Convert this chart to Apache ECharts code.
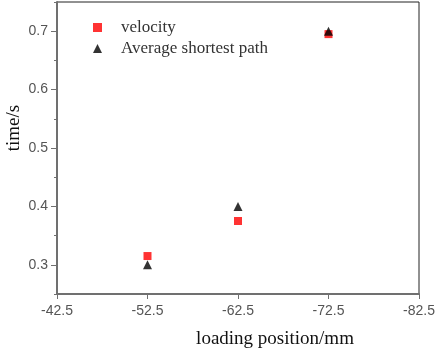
<!DOCTYPE html>
<html>
<head>
<meta charset="utf-8">
<script src="https://cdn.jsdelivr.net/npm/echarts@6/dist/echarts.min.js"></script>
<style>
  html, body { margin: 0; padding: 0; background: #fff; }
  #chart { width: 440px; height: 351px; }
</style>
</head>
<body>
<div id="chart"></div>
<script>
// 数据
var positions = [-52.5, -62.5, -72.5];
var velocity = [0.315, 0.375, 0.695];
var shortestPath = [0.30, 0.40, 0.70];
var xTicks = [-82.5, -72.5, -62.5, -52.5, -42.5];
var yTicks = [0.3, 0.4, 0.5, 0.6, 0.7];
var yMinorTicks = [0.25, 0.35, 0.45, 0.55, 0.65, 0.75];

function pairs(xs, ys) {
  return xs.map(function (x, i) { return [x, ys[i]]; });
}

var myChart = echarts.init(document.getElementById('chart'));

var serif = '"Liberation Serif", "Times New Roman", serif';
var sans = '"Liberation Sans", Arial, sans-serif';

var option = {
  animation: false,
  grid: {
    left: 57, right: 21, top: 2, bottom: 57,
    outerBoundsMode: 'none',
    containLabel: false,
    show: true, borderColor: '#222', borderWidth: 1
  },
  legend: {
    orient: 'vertical',
    left: 88, top: 14,
    itemWidth: 9, itemHeight: 9,
    itemGap: 4,
    textStyle: { fontFamily: serif, fontSize: 17, color: '#333', padding: [0, 0, 0, 14] },
    data: [
      { name: 'velocity', icon: 'rect', itemStyle: { color: '#ff0000' } },
      { name: 'Average shortest path', icon: 'triangle', itemStyle: { color: '#000' } }
    ]
  },
  xAxis: {
    type: 'value',
    min: -82.5, max: -42.5, interval: 10,
    inverse: true,
    name: 'loading position/mm',
    nameLocation: 'middle',
    nameGap: 36,
    nameTextStyle: { fontFamily: serif, fontSize: 19, color: '#111', padding: [0, 0, 0, 74] },
    axisLine: { lineStyle: { color: '#707070', width: 2 } },
    axisTick: { length: 5, customValues: xTicks, lineStyle: { color: '#707070' } },
    axisLabel: {
      fontFamily: sans, fontSize: 14, color: '#555', margin: 10,
      customValues: xTicks,
      formatter: function (v) { return v.toFixed(1); }
    },
    splitLine: { show: false }
  },
  yAxis: [{
    type: 'value',
    min: 0.25, max: 0.75,
    name: 'time/s',
    nameLocation: 'middle',
    nameMoveOverlap: false,
    nameGap: 33,
    nameTextStyle: { fontFamily: serif, fontSize: 19, color: '#111', padding: [0, 0, 0, 40] },
    axisLine: { lineStyle: { color: '#707070', width: 2 } },
    axisTick: { length: 6, customValues: yTicks, lineStyle: { color: '#707070' } },
    axisLabel: {
      fontFamily: sans, fontSize: 14, color: '#555', margin: 9,
      customValues: yTicks,
      formatter: function (v) { return v.toFixed(1); }
    },
    splitLine: { show: false }
  }, {
    type: 'value',
    position: 'left',
    offset: 0,
    min: 0.25, max: 0.75,
    axisLine: { show: false },
    axisTick: { length: 3, customValues: yMinorTicks, lineStyle: { color: '#707070' } },
    axisLabel: { show: false },
    splitLine: { show: false }
  }],
  series: [{
    name: 'velocity',
    type: 'scatter',
    symbol: 'rect',
    symbolSize: 8,
    itemStyle: { color: '#ff0000' },
    data: pairs(positions, velocity)
  }, {
    name: 'Average shortest path',
    type: 'scatter',
    symbol: 'triangle',
    symbolSize: 9,
    itemStyle: { color: '#000' },
    data: pairs(positions, shortestPath)
  }]
};

myChart.setOption(option);
</script>
</body>
</html>
